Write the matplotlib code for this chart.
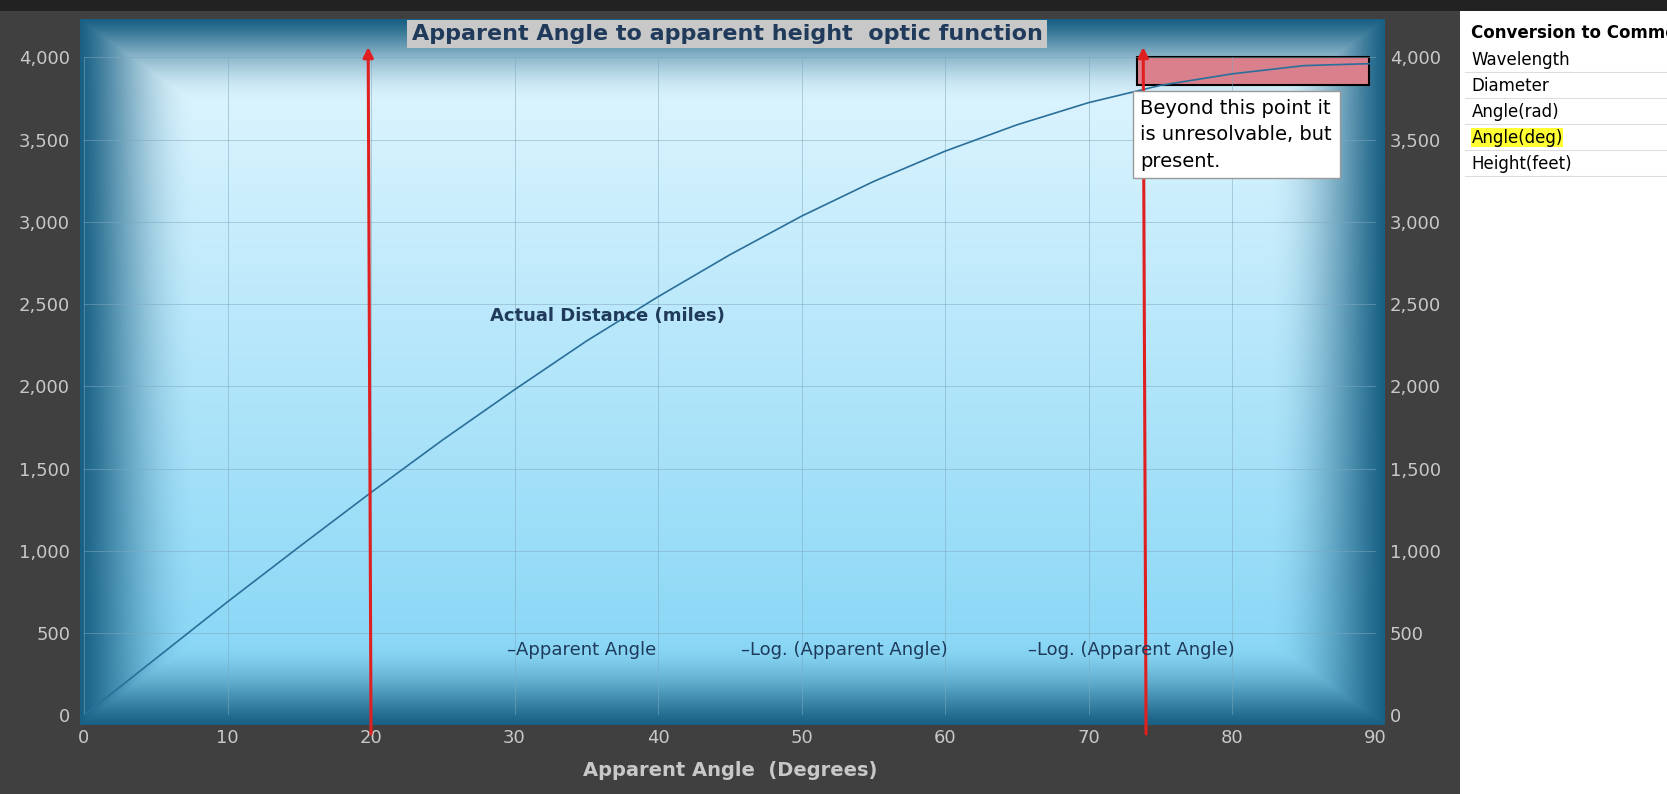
import numpy as np
import matplotlib
matplotlib.use("Agg")
import matplotlib.pyplot as plt
from matplotlib.patches import Rectangle

angles = [0, 5, 10, 15, 20, 25, 30, 35, 40, 45, 50, 55, 60, 65, 70, 75, 80, 85, 90]
distance = [0, 345, 690, 1025, 1355, 1675, 1980, 2275, 2545, 2800, 3035, 3245, 3430, 3590, 3725, 3830, 3900, 3950, 3963]
marker_angles = [20, 74]
x_ticks = list(range(0, 91, 10))
y_ticks = list(range(0, 4001, 500))
side_rows = ["Wavelength", "Diameter", "Angle(rad)", "Angle(deg)", "Height(feet)"]

W, H = 1568, 747
fig = plt.figure(figsize=(16.67, 7.94), dpi=100)
fig.patch.set_facecolor("#404040")

def fx(px): return px / W
def fy(py): return 1 - py / H

bg = fig.add_axes([fx(75), fy(682), fx(1302) - fx(75), fy(18) - fy(682)])
bg.axis("off")
ny, nx = 330, 610
yy, xx = np.mgrid[0:ny, 0:nx]
dx = np.minimum(xx, nx - 1 - xx) / 55.0
dy = np.minimum(yy, ny - 1 - yy) / 40.0
d = np.clip(np.minimum(dx, dy), 0, 1)
vert = yy / ny
inner = np.stack([0.90 - 0.40 * vert, 0.97 - 0.14 * vert, 1.0 - 0.04 * vert], -1)
edge = np.array([0.10, 0.38, 0.52])
img = edge + (inner - edge) * (np.sin(d * np.pi / 2)[..., None] ** 1.2)
bg.imshow(np.clip(img, 0, 1), aspect="auto", extent=[0, 1, 0, 1])
bg.set_xlim(0, 1); bg.set_ylim(0, 1)

ax = fig.add_axes([fx(79), fy(673), fx(1294) - fx(79), fy(54) - fy(673)])
ax.patch.set_alpha(0)
ax.set_xlim(0, 90)
ax.set_ylim(0, 4000)
ax.set_xticks(x_ticks)
ax.set_yticks(y_ticks)
ax.set_yticklabels([f"{v:,}" for v in y_ticks])
ax.grid(True, color="#7fa8bf", lw=0.6, alpha=0.6)
for s in ax.spines.values():
    s.set_visible(False)
ax.tick_params(colors="#c8c8c8", labelsize=13, length=0, pad=10)
ax.tick_params(axis="y", labelright=True, right=False)
ax.plot(angles, distance, color="#2a6f9a", lw=1.2)
ax.set_xlabel("Apparent Angle  (Degrees)", color="#c8c8c8", fontsize=14, fontweight="bold", labelpad=10)

for a in marker_angles:
    ax.annotate("", xy=(a - 0.2, 4080), xytext=(a, -130), xycoords="data",
                arrowprops=dict(arrowstyle="-|>", color="#e02020", lw=2.2, mutation_scale=15),
                annotation_clip=False)

ax.add_patch(Rectangle((73.4, 3835), 16.1, 165, facecolor="#d9808c", edgecolor="black", lw=1.5, clip_on=False))
ax.text(73.6, 3750, "Beyond this point it\nis unresolvable, but\npresent.", fontsize=14, va="top", ha="left",
        linespacing=1.5,
        bbox=dict(facecolor="white", edgecolor="#999999", boxstyle="square,pad=0.4"))

ax.text(36.5, 2400, "Actual Distance (miles)", fontsize=13, fontweight="bold", color="#1f3a5a", ha="center")
for xpos, lab in [(29.5, "\u2013Apparent Angle"), (45.8, "\u2013Log. (Apparent Angle)"), (65.8, "\u2013Log. (Apparent Angle)")]:
    ax.text(xpos, 400, lab, fontsize=13, color="#1f3a5a", ha="left", va="center")

fig.text(fx(684), fy(32), "Apparent Angle to apparent height  optic function", fontsize=16, fontweight="bold",
         color="#1f3a5a", ha="center", va="center",
         bbox=dict(facecolor="#c8c8c8", edgecolor="none", boxstyle="square,pad=0.2"))

fig.patches.append(Rectangle((fx(1373), 0), 1 - fx(1373), fy(10), transform=fig.transFigure,
                             facecolor="white", edgecolor="none"))
fig.patches.append(Rectangle((0, fy(10)), 1, 1 - fy(10), transform=fig.transFigure,
                             facecolor="#222222", edgecolor="none"))
fig.text(fx(1384), fy(31), "Conversion to Commo", fontsize=12, fontweight="bold", va="center")
for i, r in enumerate(side_rows):
    y = 56 + i * 24.5
    fig.text(fx(1384), fy(y), r, fontsize=12, va="center",
             bbox=dict(facecolor="#ffff33", edgecolor="none", pad=0.5) if r == "Angle(deg)" else None)
    fig.lines.append(plt.Line2D([fx(1378), 1], [fy(y + 12)] * 2, transform=fig.transFigure, color="#dddddd", lw=0.8))

fig.savefig("out.png", dpi=100, facecolor=fig.get_facecolor())
